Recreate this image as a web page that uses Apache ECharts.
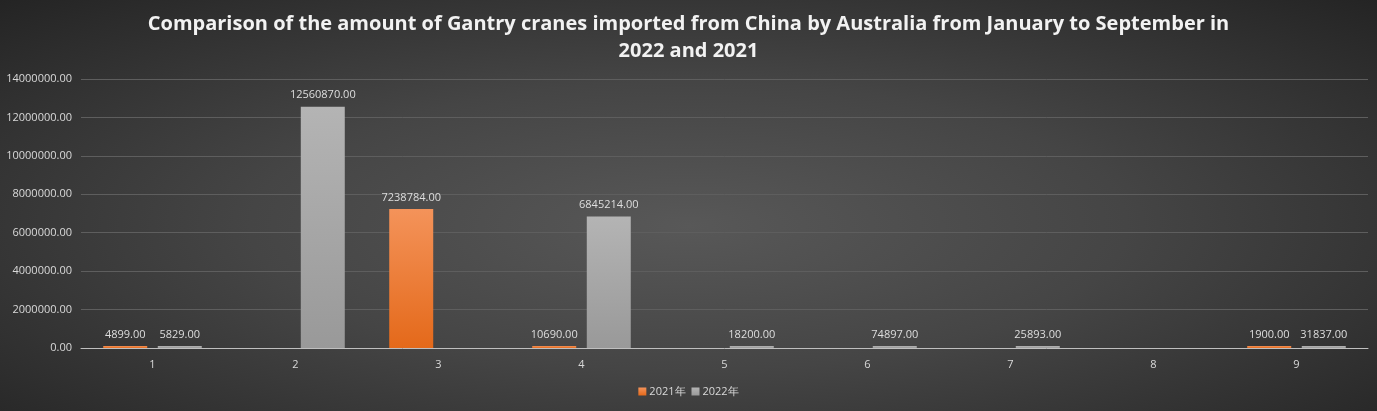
<!DOCTYPE html>
<html>
<head>
<meta charset="utf-8">
<script src="https://cdn.jsdelivr.net/npm/echarts@6/dist/echarts.min.js"></script>
<style>
    html, body { margin: 0; padding: 0; }
    body {
        width: 1377px;
        height: 411px;
        background: radial-gradient(ellipse at 50% 55%, #585858 0%, #454545 45%, #242424 100%);
    }
    #chart { width: 1377px; height: 411px; }
</style>
</head>
<body>
<div id="chart"></div>
<script>
const categories = ['1', '2', '3', '4', '5', '6', '7', '8', '9']
const seriesNames = ['2021年', '2022年']
const values2021 = [4899, null, 7238784, 10690, null, null, null, null, 1900]
const values2022 = [5829, 12560870, null, 6845214, 18200, 74897, 25893, null, 31837]

const chart = echarts.init(document.getElementById('chart'))

const labelStyle = {
    show: true,
    position: 'top',
    distance: 6,
    color: '#dedede',
    fontSize: 11,
    fontFamily: 'Open Sans',
    formatter: (p) => (p.value == null ? '' : Number(p.value).toFixed(2)),
}

const option = {
    backgroundColor: 'transparent',
    textStyle: { fontFamily: 'Open Sans' },
    title: {
        text: 'Comparison of the amount of Gantry cranes imported from China by Australia from January to September in\n2022 and 2021',
        left: 'center',
        top: 6,
        textStyle: {
            color: '#f2f2f2',
            fontSize: 20,
            fontWeight: 'bold',
            fontFamily: 'Open Sans',
            lineHeight: 27,
        },
    },
    legend: {
        bottom: 9,
        left: 'center',
        icon: 'rect',
        itemWidth: 8,
        itemHeight: 8,
        itemGap: 6,
        textStyle: { color: '#d9d9d9', fontSize: 11, padding: [0, 0, 0, -2] },
        data: seriesNames,
    },
    grid: {
        left: 81,
        right: 9,
        top: 79,
        bottom: 63,
    },
    xAxis: {
        type: 'category',
        data: categories,
        axisTick: { show: false },
        axisLine: { lineStyle: { color: '#bfbfbf', width: 1 } },
        axisLabel: { color: '#d9d9d9', fontSize: 11, margin: 11 },
    },
    yAxis: {
        type: 'value',
        min: 0,
        max: 14000000,
        interval: 2000000,
        axisLine: { show: false },
        axisTick: { show: false },
        axisLabel: {
            color: '#d9d9d9',
            fontSize: 11,
            margin: 9,
            formatter: (v) => v.toFixed(2),
        },
        splitLine: { lineStyle: { color: '#5e5e5e', width: 1 } },
    },
    series: [
        {
            name: seriesNames[0],
            type: 'bar',
            data: values2021,
            barWidth: 44,
            barGap: '24%',
            barMinHeight: 2,
            itemStyle: {
                color: new echarts.graphic.LinearGradient(0, 0, 0, 1, [
                    { offset: 0, color: '#f4935a' },
                    { offset: 1, color: '#e4691a' },
                ]),
            },
            label: labelStyle,
        },
        {
            name: seriesNames[1],
            type: 'bar',
            data: values2022,
            barWidth: 44,
            barMinHeight: 2,
            itemStyle: {
                color: new echarts.graphic.LinearGradient(0, 0, 0, 1, [
                    { offset: 0, color: '#b4b4b4' },
                    { offset: 1, color: '#999999' },
                ]),
            },
            label: labelStyle,
        },
    ],
}

chart.setOption(option)
</script>
</body>
</html>
